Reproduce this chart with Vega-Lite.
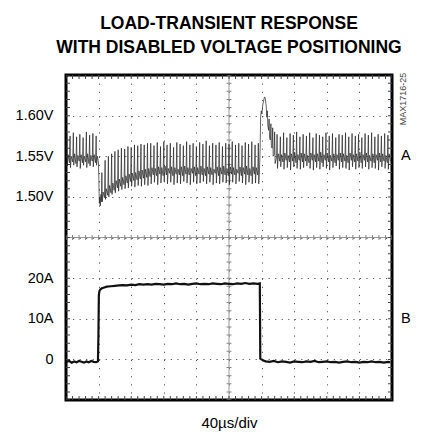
{
  "$schema": "https://vega.github.io/schema/vega-lite/v6.json",
  "width": 326,
  "height": 325,
  "autosize": "none",
  "padding": {"left": 66, "top": 75, "right": 42, "bottom": 45},
  "background": "white",
  "config": {
    "view": {"stroke": "#000", "strokeWidth": 3},
    "font": "Liberation Sans",
    "text": {"font": "Liberation Sans", "fontWeight": "normal"},
    "axis": {"domain": false, "ticks": false, "tickSize": 0, "labelFontSize": 14.5, "labelColor": "#000", "labelFont": "Liberation Sans", "titleFont": "Liberation Sans"}
  },
  "title": {
    "text": ["LOAD-TRANSIENT RESPONSE", "WITH DISABLED VOLTAGE POSITIONING"],
    "font": "Liberation Sans",
    "fontSize": 17.5,
    "fontWeight": "bold",
    "anchor": "middle",
    "offset": 16,
    "lineHeight": 24,
    "color": "#000"
  },
  "datasets": {
    "volt": [
      {"t": 1, "v": 1.578}, {"t": 1.5, "v": 1.538}, {"t": 2.5, "v": 1.552}, {"t": 4.2, "v": 1.542},
      {"t": 5, "v": 1.575}, {"t": 5.5, "v": 1.536}, {"t": 6.5, "v": 1.550}, {"t": 8.2, "v": 1.543},
      {"t": 9, "v": 1.579}, {"t": 9.5, "v": 1.539}, {"t": 10.5, "v": 1.553}, {"t": 12.2, "v": 1.541},
      {"t": 13, "v": 1.574}, {"t": 13.5, "v": 1.537}, {"t": 14.5, "v": 1.551}, {"t": 16.2, "v": 1.544},
      {"t": 17, "v": 1.577}, {"t": 17.5, "v": 1.535}, {"t": 18.5, "v": 1.552}, {"t": 20.2, "v": 1.542},
      {"t": 21, "v": 1.573}, {"t": 21.5, "v": 1.539}, {"t": 22.5, "v": 1.550}, {"t": 24.2, "v": 1.543},
      {"t": 25, "v": 1.580}, {"t": 25.5, "v": 1.536}, {"t": 26.5, "v": 1.553}, {"t": 28.2, "v": 1.541},
      {"t": 29, "v": 1.576}, {"t": 29.5, "v": 1.538}, {"t": 30.5, "v": 1.551}, {"t": 32.2, "v": 1.544},
      {"t": 33, "v": 1.578}, {"t": 33.5, "v": 1.537}, {"t": 34.5, "v": 1.552}, {"t": 36.2, "v": 1.542},
      {"t": 37, "v": 1.575}, {"t": 37.5, "v": 1.539}, {"t": 38.5, "v": 1.550}, {"t": 39.8, "v": 1.543},
      {"t": 40.3, "v": 1.520}, {"t": 40.9, "v": 1.492}, {"t": 41.5, "v": 1.499}, {"t": 42.1, "v": 1.489}, {"t": 42.8, "v": 1.503}, {"t": 43.4, "v": 1.494},
      {"t": 44, "v": 1.530}, {"t": 44.5, "v": 1.494}, {"t": 45.5, "v": 1.506}, {"t": 47.2, "v": 1.499},
      {"t": 48, "v": 1.545}, {"t": 48.5, "v": 1.497}, {"t": 49.5, "v": 1.510}, {"t": 51.2, "v": 1.502},
      {"t": 52, "v": 1.550}, {"t": 52.5, "v": 1.500}, {"t": 53.5, "v": 1.514}, {"t": 55.2, "v": 1.505},
      {"t": 56, "v": 1.553}, {"t": 56.5, "v": 1.503}, {"t": 57.5, "v": 1.517}, {"t": 59.2, "v": 1.508},
      {"t": 60, "v": 1.556}, {"t": 60.5, "v": 1.505}, {"t": 61.5, "v": 1.520}, {"t": 63.2, "v": 1.511},
      {"t": 64, "v": 1.558}, {"t": 64.5, "v": 1.507}, {"t": 65.5, "v": 1.522}, {"t": 67.2, "v": 1.513},
      {"t": 68, "v": 1.560}, {"t": 68.5, "v": 1.509}, {"t": 69.5, "v": 1.524}, {"t": 71.2, "v": 1.515},
      {"t": 72, "v": 1.559}, {"t": 72.5, "v": 1.510}, {"t": 73.5, "v": 1.526}, {"t": 75.2, "v": 1.517},
      {"t": 76, "v": 1.562}, {"t": 76.5, "v": 1.511}, {"t": 77.5, "v": 1.528}, {"t": 79.2, "v": 1.519},
      {"t": 80, "v": 1.561}, {"t": 80.5, "v": 1.513}, {"t": 81.5, "v": 1.529}, {"t": 83.2, "v": 1.520},
      {"t": 84, "v": 1.564}, {"t": 84.5, "v": 1.512}, {"t": 85.5, "v": 1.530}, {"t": 87.2, "v": 1.521},
      {"t": 88, "v": 1.563}, {"t": 88.5, "v": 1.514}, {"t": 89.5, "v": 1.532}, {"t": 91.2, "v": 1.522},
      {"t": 92, "v": 1.565}, {"t": 92.5, "v": 1.513}, {"t": 93.5, "v": 1.533}, {"t": 95.2, "v": 1.523},
      {"t": 96, "v": 1.564}, {"t": 96.5, "v": 1.515}, {"t": 97.5, "v": 1.534}, {"t": 99.2, "v": 1.524},
      {"t": 100, "v": 1.566}, {"t": 100.5, "v": 1.514}, {"t": 101.5, "v": 1.535}, {"t": 103.2, "v": 1.525},
      {"t": 104, "v": 1.566}, {"t": 104.5, "v": 1.516}, {"t": 105.5, "v": 1.536}, {"t": 107.2, "v": 1.527},
      {"t": 108, "v": 1.563}, {"t": 108.5, "v": 1.518}, {"t": 109.5, "v": 1.535}, {"t": 111.2, "v": 1.526},
      {"t": 112, "v": 1.567}, {"t": 112.5, "v": 1.515}, {"t": 113.5, "v": 1.537}, {"t": 115.2, "v": 1.528},
      {"t": 116, "v": 1.562}, {"t": 116.5, "v": 1.517}, {"t": 117.5, "v": 1.536}, {"t": 119.2, "v": 1.526},
      {"t": 120, "v": 1.568}, {"t": 120.5, "v": 1.519}, {"t": 121.5, "v": 1.538}, {"t": 123.2, "v": 1.527},
      {"t": 124, "v": 1.564}, {"t": 124.5, "v": 1.516}, {"t": 125.5, "v": 1.535}, {"t": 127.2, "v": 1.529},
      {"t": 128, "v": 1.566}, {"t": 128.5, "v": 1.518}, {"t": 129.5, "v": 1.537}, {"t": 131.2, "v": 1.526},
      {"t": 132, "v": 1.561}, {"t": 132.5, "v": 1.515}, {"t": 133.5, "v": 1.536}, {"t": 135.2, "v": 1.528},
      {"t": 136, "v": 1.567}, {"t": 136.5, "v": 1.517}, {"t": 137.5, "v": 1.534}, {"t": 139.2, "v": 1.527},
      {"t": 140, "v": 1.565}, {"t": 140.5, "v": 1.516}, {"t": 141.5, "v": 1.537}, {"t": 143.2, "v": 1.526},
      {"t": 144, "v": 1.563}, {"t": 144.5, "v": 1.519}, {"t": 145.5, "v": 1.538}, {"t": 147.2, "v": 1.528},
      {"t": 148, "v": 1.568}, {"t": 148.5, "v": 1.517}, {"t": 149.5, "v": 1.536}, {"t": 151.2, "v": 1.527},
      {"t": 152, "v": 1.564}, {"t": 152.5, "v": 1.515}, {"t": 153.5, "v": 1.535}, {"t": 155.2, "v": 1.529},
      {"t": 156, "v": 1.566}, {"t": 156.5, "v": 1.518}, {"t": 157.5, "v": 1.537}, {"t": 159.2, "v": 1.526},
      {"t": 160, "v": 1.562}, {"t": 160.5, "v": 1.516}, {"t": 161.5, "v": 1.536}, {"t": 163.2, "v": 1.528},
      {"t": 164, "v": 1.567}, {"t": 164.5, "v": 1.517}, {"t": 165.5, "v": 1.538}, {"t": 167.2, "v": 1.527},
      {"t": 168, "v": 1.565}, {"t": 168.5, "v": 1.519}, {"t": 169.5, "v": 1.535}, {"t": 171.2, "v": 1.526},
      {"t": 172, "v": 1.569}, {"t": 172.5, "v": 1.516}, {"t": 173.5, "v": 1.537}, {"t": 175.2, "v": 1.528},
      {"t": 176, "v": 1.563}, {"t": 176.5, "v": 1.518}, {"t": 177.5, "v": 1.536}, {"t": 179.2, "v": 1.527},
      {"t": 180, "v": 1.566}, {"t": 180.5, "v": 1.515}, {"t": 181.5, "v": 1.534}, {"t": 183.2, "v": 1.529},
      {"t": 184, "v": 1.564}, {"t": 184.5, "v": 1.517}, {"t": 185.5, "v": 1.537}, {"t": 187.2, "v": 1.526},
      {"t": 188, "v": 1.567}, {"t": 188.5, "v": 1.516}, {"t": 189.5, "v": 1.536}, {"t": 191.2, "v": 1.528},
      {"t": 192, "v": 1.562}, {"t": 192.5, "v": 1.518}, {"t": 193.5, "v": 1.538}, {"t": 195.2, "v": 1.527},
      {"t": 196, "v": 1.566}, {"t": 196.5, "v": 1.517}, {"t": 197.5, "v": 1.535}, {"t": 199.2, "v": 1.526},
      {"t": 200, "v": 1.565}, {"t": 200.5, "v": 1.515}, {"t": 201.5, "v": 1.537}, {"t": 203.2, "v": 1.528},
      {"t": 204, "v": 1.568}, {"t": 204.5, "v": 1.518}, {"t": 205.5, "v": 1.536}, {"t": 207.2, "v": 1.527},
      {"t": 208, "v": 1.564}, {"t": 208.5, "v": 1.516}, {"t": 209.5, "v": 1.534}, {"t": 211.2, "v": 1.529},
      {"t": 212, "v": 1.566}, {"t": 212.5, "v": 1.519}, {"t": 213.5, "v": 1.537}, {"t": 215.2, "v": 1.526},
      {"t": 216, "v": 1.563}, {"t": 216.5, "v": 1.517}, {"t": 217.5, "v": 1.536}, {"t": 219.2, "v": 1.528},
      {"t": 220, "v": 1.567}, {"t": 220.5, "v": 1.515}, {"t": 221.5, "v": 1.538}, {"t": 223.2, "v": 1.527},
      {"t": 224, "v": 1.565}, {"t": 224.5, "v": 1.518}, {"t": 225.5, "v": 1.535}, {"t": 227.2, "v": 1.526},
      {"t": 228, "v": 1.568}, {"t": 228.5, "v": 1.516}, {"t": 229.5, "v": 1.537}, {"t": 231.2, "v": 1.528},
      {"t": 232, "v": 1.564}, {"t": 232.5, "v": 1.517}, {"t": 233.5, "v": 1.536}, {"t": 235.2, "v": 1.527},
      {"t": 236, "v": 1.566}, {"t": 236.5, "v": 1.516}, {"t": 237.4, "v": 1.532},
      {"t": 238.2, "v": 1.560}, {"t": 238.8, "v": 1.598}, {"t": 239.6, "v": 1.606}, {"t": 240.4, "v": 1.602},
      {"t": 241.4, "v": 1.613}, {"t": 242.6, "v": 1.619}, {"t": 243.6, "v": 1.623}, {"t": 244.6, "v": 1.621},
      {"t": 245.6, "v": 1.612}, {"t": 246.4, "v": 1.598}, {"t": 247.0, "v": 1.606}, {"t": 247.6, "v": 1.588},
      {"t": 248.6, "v": 1.582}, {"t": 249.2, "v": 1.596}, {"t": 249.8, "v": 1.572}, {"t": 250.8, "v": 1.570},
      {"t": 251.4, "v": 1.590}, {"t": 252.0, "v": 1.561}, {"t": 253.0, "v": 1.560}, {"t": 253.6, "v": 1.585},
      {"t": 254.2, "v": 1.550}, {"t": 255.4, "v": 1.552}, {"t": 256.0, "v": 1.580}, {"t": 256.6, "v": 1.541},
      {"t": 258.4, "v": 1.549},
      {"t": 259, "v": 1.577}, {"t": 259.5, "v": 1.535}, {"t": 260.5, "v": 1.553}, {"t": 262.2, "v": 1.544},
      {"t": 263, "v": 1.574}, {"t": 263.5, "v": 1.537}, {"t": 264.5, "v": 1.552}, {"t": 266.2, "v": 1.543},
      {"t": 267, "v": 1.579}, {"t": 267.5, "v": 1.534}, {"t": 268.5, "v": 1.554}, {"t": 270.2, "v": 1.545},
      {"t": 271, "v": 1.573}, {"t": 271.5, "v": 1.536}, {"t": 272.5, "v": 1.551}, {"t": 274.2, "v": 1.543},
      {"t": 275, "v": 1.578}, {"t": 275.5, "v": 1.533}, {"t": 276.5, "v": 1.553}, {"t": 278.2, "v": 1.544},
      {"t": 279, "v": 1.576}, {"t": 279.5, "v": 1.537}, {"t": 280.5, "v": 1.555}, {"t": 282.2, "v": 1.542},
      {"t": 283, "v": 1.580}, {"t": 283.5, "v": 1.535}, {"t": 284.5, "v": 1.552}, {"t": 286.2, "v": 1.545},
      {"t": 287, "v": 1.574}, {"t": 287.5, "v": 1.534}, {"t": 288.5, "v": 1.554}, {"t": 290.2, "v": 1.543},
      {"t": 291, "v": 1.577}, {"t": 291.5, "v": 1.536}, {"t": 292.5, "v": 1.553}, {"t": 294.2, "v": 1.544},
      {"t": 295, "v": 1.575}, {"t": 295.5, "v": 1.538}, {"t": 296.5, "v": 1.551}, {"t": 298.2, "v": 1.542},
      {"t": 299, "v": 1.579}, {"t": 299.5, "v": 1.535}, {"t": 300.5, "v": 1.554}, {"t": 302.2, "v": 1.545},
      {"t": 303, "v": 1.573}, {"t": 303.5, "v": 1.533}, {"t": 304.5, "v": 1.552}, {"t": 306.2, "v": 1.543},
      {"t": 307, "v": 1.578}, {"t": 307.5, "v": 1.536}, {"t": 308.5, "v": 1.553}, {"t": 310.2, "v": 1.544},
      {"t": 311, "v": 1.576}, {"t": 311.5, "v": 1.534}, {"t": 312.5, "v": 1.555}, {"t": 314.2, "v": 1.542},
      {"t": 315, "v": 1.574}, {"t": 315.5, "v": 1.537}, {"t": 316.5, "v": 1.552}, {"t": 318.2, "v": 1.545},
      {"t": 319, "v": 1.579}, {"t": 319.5, "v": 1.535}, {"t": 320.5, "v": 1.554}, {"t": 322.2, "v": 1.543},
      {"t": 323, "v": 1.575}, {"t": 323.5, "v": 1.533}, {"t": 324.5, "v": 1.551}, {"t": 326.2, "v": 1.544},
      {"t": 327, "v": 1.578}, {"t": 327.5, "v": 1.536}, {"t": 328.5, "v": 1.553}, {"t": 330.2, "v": 1.542},
      {"t": 331, "v": 1.573}, {"t": 331.5, "v": 1.538}, {"t": 332.5, "v": 1.552}, {"t": 334.2, "v": 1.545},
      {"t": 335, "v": 1.577}, {"t": 335.5, "v": 1.534}, {"t": 336.5, "v": 1.554}, {"t": 338.2, "v": 1.543},
      {"t": 339, "v": 1.576}, {"t": 339.5, "v": 1.536}, {"t": 340.5, "v": 1.553}, {"t": 342.2, "v": 1.544},
      {"t": 343, "v": 1.579}, {"t": 343.5, "v": 1.535}, {"t": 344.5, "v": 1.551}, {"t": 346.2, "v": 1.542},
      {"t": 347, "v": 1.574}, {"t": 347.5, "v": 1.533}, {"t": 348.5, "v": 1.554}, {"t": 350.2, "v": 1.545},
      {"t": 351, "v": 1.578}, {"t": 351.5, "v": 1.537}, {"t": 352.5, "v": 1.552}, {"t": 354.2, "v": 1.543},
      {"t": 355, "v": 1.575}, {"t": 355.5, "v": 1.534}, {"t": 356.5, "v": 1.553}, {"t": 358.2, "v": 1.544},
      {"t": 359, "v": 1.577}, {"t": 359.5, "v": 1.536}, {"t": 360.5, "v": 1.555}, {"t": 362.2, "v": 1.542},
      {"t": 363, "v": 1.573}, {"t": 363.5, "v": 1.535}, {"t": 364.5, "v": 1.552}, {"t": 366.2, "v": 1.545},
      {"t": 367, "v": 1.578}, {"t": 367.5, "v": 1.537}, {"t": 368.5, "v": 1.554}, {"t": 370.2, "v": 1.543},
      {"t": 371, "v": 1.576}, {"t": 371.5, "v": 1.534}, {"t": 372.5, "v": 1.551}, {"t": 374.2, "v": 1.544},
      {"t": 375, "v": 1.579}, {"t": 375.5, "v": 1.536}, {"t": 376.5, "v": 1.553}, {"t": 378.2, "v": 1.542},
      {"t": 379, "v": 1.574}, {"t": 379.5, "v": 1.535}, {"t": 380.5, "v": 1.552}, {"t": 382.2, "v": 1.545},
      {"t": 383, "v": 1.577}, {"t": 383.5, "v": 1.533}, {"t": 384.5, "v": 1.554}, {"t": 386.2, "v": 1.543},
      {"t": 387, "v": 1.575}, {"t": 387.5, "v": 1.537}, {"t": 388.5, "v": 1.553}, {"t": 390.2, "v": 1.544},
      {"t": 391, "v": 1.578}, {"t": 391.5, "v": 1.535}, {"t": 392.5, "v": 1.551}, {"t": 394.2, "v": 1.542},
      {"t": 395, "v": 1.576}, {"t": 395.5, "v": 1.534}, {"t": 396.5, "v": 1.553}, {"t": 398.2, "v": 1.544}
    ],
    "amp": [
      {"t": 1, "i": -0.6}, {"t": 4, "i": -0.4}, {"t": 7, "i": -0.8}, {"t": 10, "i": -0.5}, {"t": 13, "i": -0.7},
      {"t": 16, "i": -0.4}, {"t": 19, "i": -0.6}, {"t": 22, "i": -0.8}, {"t": 25, "i": -0.5}, {"t": 28, "i": -0.7},
      {"t": 31, "i": -0.4}, {"t": 34, "i": -0.6}, {"t": 37, "i": -0.7}, {"t": 39.2, "i": -0.5}, {"t": 39.8, "i": 6.0},
      {"t": 40.3, "i": 15.8}, {"t": 41, "i": 16.8}, {"t": 42, "i": 17.2}, {"t": 44, "i": 17.5}, {"t": 47, "i": 17.7},
      {"t": 50, "i": 17.9}, {"t": 55, "i": 18.0}, {"t": 60, "i": 18.1}, {"t": 65, "i": 18.2}, {"t": 70, "i": 18.3},
      {"t": 75, "i": 18.2}, {"t": 80, "i": 18.4}, {"t": 85, "i": 18.3}, {"t": 90, "i": 18.5}, {"t": 95, "i": 18.4},
      {"t": 100, "i": 18.5}, {"t": 105, "i": 18.4}, {"t": 110, "i": 18.6}, {"t": 115, "i": 18.5}, {"t": 120, "i": 18.4},
      {"t": 125, "i": 18.6}, {"t": 130, "i": 18.5}, {"t": 135, "i": 18.7}, {"t": 140, "i": 18.5}, {"t": 145, "i": 18.6},
      {"t": 150, "i": 18.4}, {"t": 155, "i": 18.6}, {"t": 160, "i": 18.7}, {"t": 165, "i": 18.5}, {"t": 170, "i": 18.6},
      {"t": 175, "i": 18.5}, {"t": 180, "i": 18.7}, {"t": 185, "i": 18.6}, {"t": 190, "i": 18.5}, {"t": 195, "i": 18.7},
      {"t": 200, "i": 18.6}, {"t": 205, "i": 18.5}, {"t": 210, "i": 18.7}, {"t": 215, "i": 18.6}, {"t": 220, "i": 18.8},
      {"t": 225, "i": 18.6}, {"t": 230, "i": 18.7}, {"t": 235, "i": 18.6}, {"t": 237.8, "i": 18.7}, {"t": 238.4, "i": 0.2},
      {"t": 240, "i": 0.0}, {"t": 242, "i": -0.3}, {"t": 245, "i": -0.5}, {"t": 250, "i": -0.6}, {"t": 255, "i": -0.4},
      {"t": 260, "i": -0.7}, {"t": 265, "i": -0.5}, {"t": 270, "i": -0.6}, {"t": 275, "i": -0.8}, {"t": 280, "i": -0.5},
      {"t": 285, "i": -0.6}, {"t": 290, "i": -0.7}, {"t": 295, "i": -0.5}, {"t": 300, "i": -0.6}, {"t": 305, "i": -0.4},
      {"t": 310, "i": -0.7}, {"t": 315, "i": -0.6}, {"t": 320, "i": -0.5}, {"t": 325, "i": -0.7}, {"t": 330, "i": -0.6},
      {"t": 335, "i": -0.8}, {"t": 340, "i": -0.6}, {"t": 345, "i": -0.5}, {"t": 350, "i": -0.7}, {"t": 355, "i": -0.6},
      {"t": 360, "i": -0.8}, {"t": 365, "i": -0.6}, {"t": 370, "i": -0.7}, {"t": 375, "i": -0.5}, {"t": 380, "i": -0.7},
      {"t": 385, "i": -0.6}, {"t": 390, "i": -0.8}, {"t": 395, "i": -0.6}, {"t": 398, "i": -0.7}
    ]
  },
  "layer": [
    {
      "data": {"name": "volt"},
      "layer": [
        {
          "data": {"values": [{}]},
          "mark": {"type": "rule", "color": "#999", "strokeWidth": 1},
          "encoding": {"y": {"datum": 1.45, "scale": {"domain": [1.25, 1.65], "nice": false, "zero": false}}}
        },
        {
          "data": {"values": [{}]},
          "mark": {"type": "rule", "color": "#888", "strokeWidth": 5, "strokeDash": [1, 5.52], "strokeDashOffset": 0.5},
          "encoding": {"y": {"datum": 1.45}}
        },
        {
          "data": {"values": [{}]},
          "mark": {"type": "rule", "color": "#999", "strokeWidth": 1},
          "encoding": {"x": {"datum": 200, "scale": {"domain": [0, 400], "nice": false, "zero": false}}}
        },
        {
          "data": {"values": [{}]},
          "mark": {"type": "rule", "color": "#888", "strokeWidth": 5, "strokeDash": [1, 7.125], "strokeDashOffset": 0.5},
          "encoding": {"x": {"datum": 200}}
        },
        {
          "data": {"values": [{}]},
          "mark": {"type": "rule", "color": "#444", "strokeWidth": 8, "strokeDash": [1, 5.52], "strokeDashOffset": 0.5, "clip": true},
          "encoding": {"y": {"datum": 1.65}}
        },
        {
          "data": {"values": [{}]},
          "mark": {"type": "rule", "color": "#444", "strokeWidth": 8, "strokeDash": [1, 5.52], "strokeDashOffset": 0.5, "clip": true},
          "encoding": {"y": {"datum": 1.25}}
        },
        {
          "data": {"values": [{}]},
          "mark": {"type": "rule", "color": "#444", "strokeWidth": 8, "strokeDash": [1, 7.125], "strokeDashOffset": 0.5, "clip": true},
          "encoding": {"x": {"datum": 0}}
        },
        {
          "data": {"values": [{}]},
          "mark": {"type": "rule", "color": "#444", "strokeWidth": 8, "strokeDash": [1, 7.125], "strokeDashOffset": 0.5, "clip": true},
          "encoding": {"x": {"datum": 400}}
        },
        {
          "mark": {"type": "line", "color": "#222", "strokeWidth": 0.7, "clip": true},
          "encoding": {
            "x": {
              "field": "t", "type": "quantitative",
              "scale": {"domain": [0, 400], "nice": false, "zero": false},
              "axis": {
                "title": "40µs/div", "titleFontSize": 15, "titleFontWeight": "normal", "titleColor": "#000", "titlePadding": 15,
                "labels": false, "values": [40, 80, 120, 160, 200, 240, 280, 320, 360],
                "grid": true, "gridColor": "#555", "gridWidth": 1, "gridDash": [1.2, 6.925]
              }
            },
            "y": {
              "field": "v", "type": "quantitative",
              "scale": {"domain": [1.25, 1.65], "nice": false, "zero": false},
              "axis": {
                "orient": "left", "title": null,
                "values": [1.3, 1.35, 1.4, 1.45, 1.5, 1.55, 1.6],
                "labelExpr": "datum.value > 1.49 ? format(datum.value, '.2f') + 'V' : ''",
                "labelPadding": 13,
                "grid": true, "gridColor": "#555", "gridWidth": 1, "gridDash": [1.2, 5.32]
              }
            }
          }
        },
        {
          "data": {"values": [{}]},
          "mark": {"type": "text", "fontSize": 14.5, "fontWeight": "normal", "align": "left", "baseline": "middle", "color": "#000"},
          "encoding": {"x": {"datum": 411}, "y": {"datum": 1.55}, "text": {"value": "A"}}
        },
        {
          "data": {"values": [{}]},
          "mark": {"type": "text", "fontSize": 9, "fontWeight": "normal", "angle": 270, "align": "right", "baseline": "middle", "color": "#444"},
          "encoding": {"x": {"datum": 413}, "y": {"datum": 1.6528}, "text": {"value": "MAX1716-25"}}
        }
      ]
    },
    {
      "data": {"name": "amp"},
      "layer": [
        {
          "mark": {"type": "line", "color": "#111", "strokeWidth": 2.2, "clip": true},
          "encoding": {
            "x": {"field": "t", "type": "quantitative", "scale": {"domain": [0, 400], "nice": false, "zero": false}},
            "y": {
              "field": "i", "type": "quantitative",
              "scale": {"domain": [-10, 70], "nice": false, "zero": false},
              "axis": {
                "orient": "left", "title": null, "values": [0, 10, 20], "grid": false,
                "labelExpr": "datum.value == 0 ? '0' : datum.value + 'A'",
                "labelPadding": 13
              }
            }
          }
        },
        {
          "data": {"values": [{}]},
          "mark": {"type": "text", "fontSize": 14.5, "fontWeight": "normal", "align": "left", "baseline": "middle", "color": "#000"},
          "encoding": {"x": {"datum": 411}, "y": {"datum": 10}, "text": {"value": "B"}}
        }
      ]
    }
  ],
  "resolve": {"scale": {"y": "independent"}}
}
